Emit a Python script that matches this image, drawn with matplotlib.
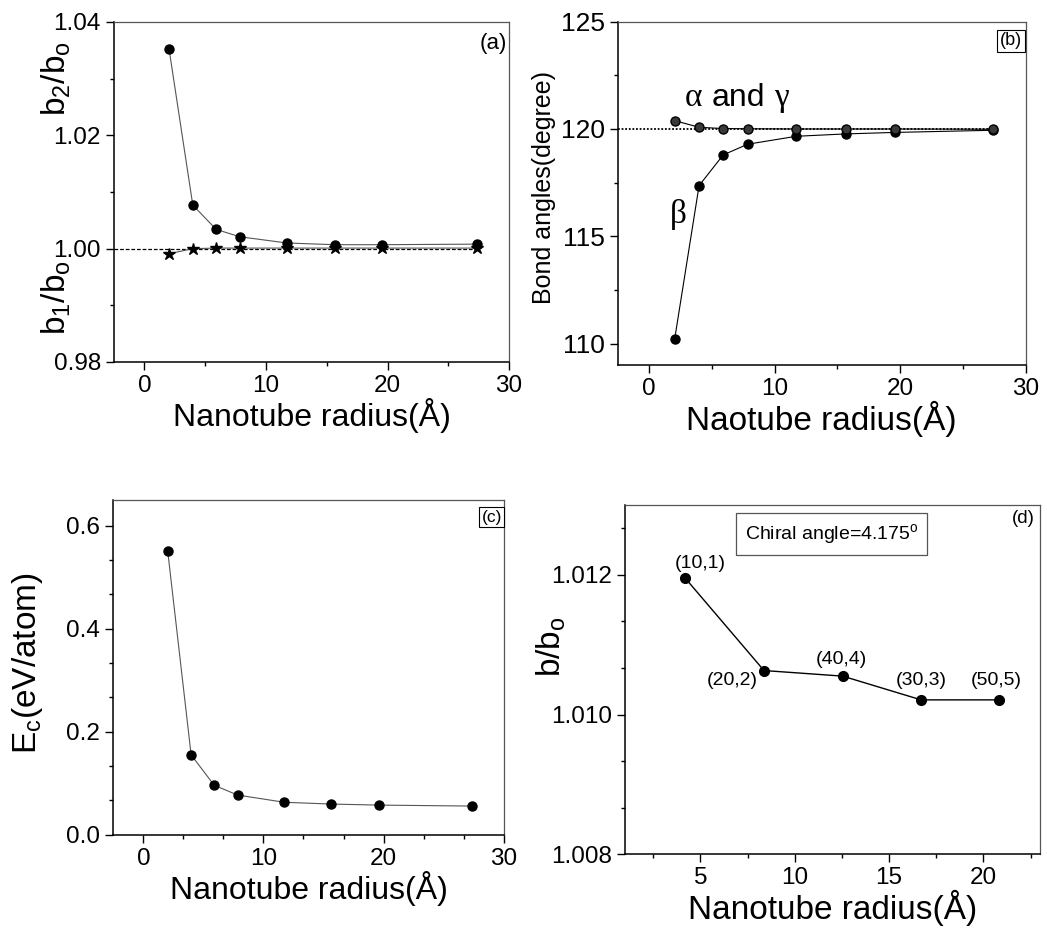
import numpy as np
import matplotlib
matplotlib.use("Agg")
import matplotlib.pyplot as plt
from matplotlib.ticker import MultipleLocator, AutoMinorLocator

plt.rcParams['font.family'] = ['Liberation Sans', 'DejaVu Sans']
plt.rcParams['mathtext.fontset'] = 'custom'
plt.rcParams['mathtext.rm'] = 'Liberation Sans'

# data
radius = [2.03, 3.98, 5.90, 7.85, 11.72, 15.65, 19.58, 27.38]
b2_ratio = [1.0352, 1.0077, 1.0034, 1.0021, 1.0010, 1.0007, 1.0007, 1.0008]
b1_ratio = [0.9991, 1.0000, 1.0001, 1.0001, 1.0001, 1.0001, 1.0001, 1.0001]

alpha_gamma = [120.39, 120.08, 120.02, 120.01, 120.00, 120.00, 120.00, 119.99]
beta = [110.19, 117.36, 118.79, 119.29, 119.66, 119.77, 119.84, 119.94]

ec = [0.551, 0.155, 0.096, 0.077, 0.063, 0.0595, 0.0575, 0.0556]

chiral_radius = [4.17, 8.37, 12.54, 16.70, 20.85]
chiral_ratio = [1.01196, 1.01063, 1.01055, 1.01021, 1.01021]
chiral_labels = ['(10,1)', '(20,2)', '(40,4)', '(30,3)', '(50,5)']
label_offsets = [(11, 10), (-23, -7), (-1, 12), (0, 14), (-2, 14)]

fig = plt.figure(figsize=(10.47, 9.32), dpi=100)
ax_a = fig.add_axes([0.1089, 0.6116, 0.3773, 0.3648])
ax_b = fig.add_axes([0.5900, 0.6084, 0.3897, 0.3683])
ax_c = fig.add_axes([0.1082, 0.1044, 0.3729, 0.3591])
ax_d = fig.add_axes([0.5969, 0.0834, 0.3964, 0.3748])


def style(ax, nminor_x, nminor_y, ysize=17):
    for s in ['left', 'bottom']:
        ax.spines[s].set_linewidth(1.1)
    for s in ['top', 'right']:
        ax.spines[s].set_color('#555555')
        ax.spines[s].set_linewidth(0.9)
    ax.xaxis.set_minor_locator(AutoMinorLocator(nminor_x))
    ax.yaxis.set_minor_locator(AutoMinorLocator(nminor_y))
    ax.tick_params(which='major', direction='out', length=6, width=1,
                   labelsize=17.5, top=False, right=False)
    ax.tick_params(which='minor', direction='out', length=3, width=1,
                   top=False, right=False)
    ax.tick_params(axis='y', labelsize=ysize)


def ylab(ax, x, y, s, size=24):
    ax.text(x, y, s, transform=ax.transAxes, rotation=90,
            ha='center', va='center', fontsize=size)


# (a)
ax_a.plot([-2.5, radius[-1]], [1.0, 1.0], color='black', lw=0.9, ls=(0, (3, 1.5)))
ax_a.plot(radius, b2_ratio, '-', color='#555555', lw=0.8,
          marker='o', ms=6.5, mfc='black', mec='black')
ax_a.plot(radius, b1_ratio, '-', color='#555555', lw=0.8,
          marker='*', ms=9, mfc='black', mec='black')
ax_a.set_xlim(-2.5, 30)
ax_a.set_ylim(0.98, 1.04)
ax_a.xaxis.set_major_locator(MultipleLocator(10))
ax_a.yaxis.set_major_locator(MultipleLocator(0.02))
ax_a.yaxis.set_major_formatter(plt.FormatStrFormatter('%.2f'))
style(ax_a, 2, 2, ysize=17.5)
ax_a.set_xlabel('Nanotube radius(Å)', fontsize=23, labelpad=0.5)
ylab(ax_a, -0.145, 0.835, r'$\mathregular{b_2/b_o}$')
ylab(ax_a, -0.145, 0.19, r'$\mathregular{b_1/b_o}$')
ax_a.text(0.995, 0.938, '(a)', transform=ax_a.transAxes, ha='right',
          va='center', fontsize=16)

# (b)
ax_b.plot([-2.5, radius[-1]], [120, 120], color='black', lw=1.3, ls=(0, (1, 1)))
ax_b.plot(radius, beta, '-', color='black', lw=0.8,
          marker='o', ms=6.5, mfc='black', mec='black')
ax_b.plot(radius, alpha_gamma, '-', color='black', lw=0.8,
          marker='o', ms=6.5, mfc='#3a3a3a', mec='black')
ax_b.set_xlim(-2.5, 30)
ax_b.set_ylim(109, 125)
ax_b.xaxis.set_major_locator(MultipleLocator(10))
ax_b.yaxis.set_major_locator(MultipleLocator(5))
style(ax_b, 2, 2, ysize=19)
ax_b.set_xlabel('Naotube radius(Å)', fontsize=24, labelpad=0.5)
ylab(ax_b, -0.181, 0.518, 'Bond angles(degree)', size=18)
ax_b.text(3.53, 121.07, 'α', fontsize=24, ha='center', va='baseline',
          family='Liberation Serif')
ax_b.text(7.1, 121.07, 'and', fontsize=23, ha='center', va='baseline')
ax_b.text(10.56, 121.07, 'γ', fontsize=24, ha='center', va='baseline',
          family='Liberation Serif')
ax_b.text(2.33, 116.0, 'β', fontsize=24, ha='center', va='center',
          family='Liberation Serif')
ax_b.text(0.991, 0.944, '(b)', transform=ax_b.transAxes, ha='right',
          va='center', fontsize=13,
          bbox=dict(boxstyle='square,pad=0.15', fc='white', ec='black', lw=0.8))

# (c)
ax_c.plot(radius, ec, '-', color='#555555', lw=0.8,
          marker='o', ms=6.5, mfc='black', mec='black')
ax_c.set_xlim(-2.5, 30)
ax_c.set_ylim(0, 0.65)
ax_c.xaxis.set_major_locator(MultipleLocator(10))
ax_c.yaxis.set_major_locator(MultipleLocator(0.2))
ax_c.yaxis.set_major_formatter(plt.FormatStrFormatter('%.1f'))
style(ax_c, 3, 3, ysize=17.5)
ax_c.set_xlabel('Nanotube radius(Å)', fontsize=23, labelpad=0.5)
ylab(ax_c, -0.22, 0.513, r'$\mathregular{E_c}$(eV/atom)')
ax_c.text(0.995, 0.949, '(c)', transform=ax_c.transAxes, ha='right',
          va='center', fontsize=12.5,
          bbox=dict(boxstyle='square,pad=0.15', fc='white', ec='black', lw=0.8))

# (d)
ax_d.plot(chiral_radius, chiral_ratio, '-', color='black', lw=1.0,
          marker='o', ms=7, mfc='black', mec='black')
for xv, yv, lab, off in zip(chiral_radius, chiral_ratio, chiral_labels, label_offsets):
    ax_d.annotate(lab, (xv, yv), xytext=off, textcoords='offset points',
                  ha='center', va='center', fontsize=14)
ax_d.set_xlim(1, 23)
ax_d.set_ylim(1.008, 1.013)
ax_d.xaxis.set_major_locator(MultipleLocator(5))
ax_d.yaxis.set_major_locator(MultipleLocator(0.002))
ax_d.yaxis.set_major_formatter(plt.FormatStrFormatter('%.3f'))
style(ax_d, 2, 3, ysize=17.5)
ax_d.set_xlabel('Nanotube radius(Å)', fontsize=24, labelpad=0.5)
ylab(ax_d, -0.178, 0.593, r'$\mathregular{b/b_o}$')
ax_d.text(0.988, 0.96, '(d)', transform=ax_d.transAxes, ha='right',
          va='center', fontsize=13.5)
ax_d.text(0.4976, 0.917, r'Chiral angle=4.175$\mathregular{^o}$',
          transform=ax_d.transAxes, ha='center', va='center', fontsize=14,
          bbox=dict(boxstyle='square,pad=0.45', fc='white', ec='#555555', lw=0.9))

fig.savefig('out.png', dpi=100)
